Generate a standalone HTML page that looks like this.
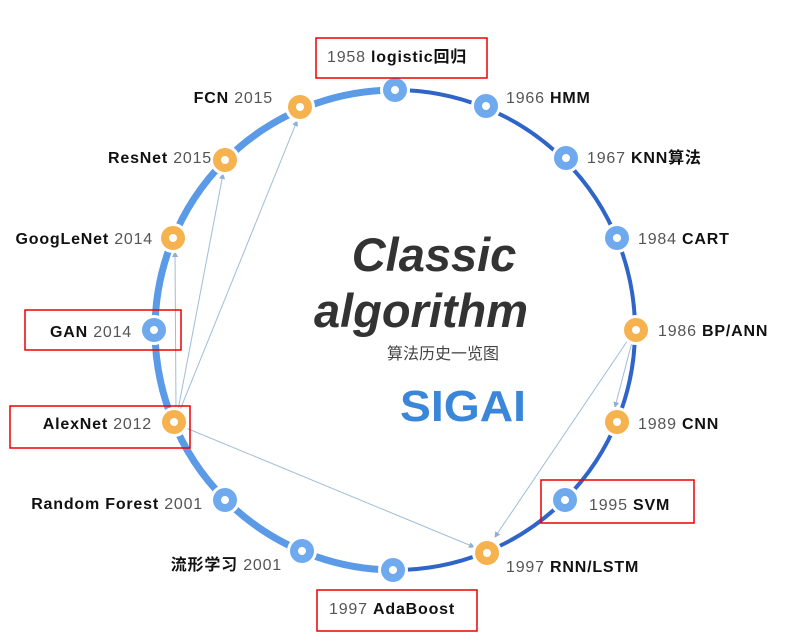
<!DOCTYPE html>
<html><head><meta charset="utf-8"><style>
html,body{margin:0;padding:0;background:#fff;}
svg{display:block;font-family:"Liberation Sans","Noto Sans CJK SC",sans-serif;}
.y{fill:#555;font-size:16px;letter-spacing:0.8px;}
.n{fill:#111;font-size:16px;font-weight:bold;}
</style></head><body>
<svg width="794" height="643" viewBox="0 0 794 643">
<defs><marker id="a" markerWidth="6" markerHeight="6" refX="5" refY="3" orient="auto"><path d="M0,0 L6,3 L0,6 z" fill="#8fb0d0"/></marker></defs>
<path d="M395,90 A240,240 0 0 0 395,570" fill="none" stroke="#5a9ae6" stroke-width="7"/>
<path d="M395,90 A240,240 0 0 1 395,570" fill="none" stroke="#2f64c8" stroke-width="4"/>
<g stroke="#9fbdd8" stroke-width="1" fill="none" marker-end="url(#a)">
<line x1="176" y1="410" x2="175" y2="252"/>
<line x1="178" y1="410" x2="223" y2="174"/>
<line x1="180" y1="410" x2="297" y2="121"/>
<line x1="186" y1="428" x2="474" y2="547"/>
<line x1="628" y1="340" x2="495" y2="537"/>
<line x1="632" y1="342" x2="615" y2="407"/>
</g>
<g fill="#fff"><circle cx="395" cy="90" r="15"/><circle cx="486" cy="106" r="15"/><circle cx="566" cy="158" r="15"/><circle cx="617" cy="238" r="15"/><circle cx="636" cy="330" r="15"/><circle cx="617" cy="422" r="15"/><circle cx="565" cy="500" r="15"/><circle cx="487" cy="553" r="15"/><circle cx="393" cy="570" r="15"/><circle cx="302" cy="551" r="15"/><circle cx="225" cy="500" r="15"/><circle cx="174" cy="422" r="15"/><circle cx="154" cy="330" r="15"/><circle cx="173" cy="238" r="15"/><circle cx="225" cy="160" r="15"/><circle cx="300" cy="107" r="15"/></g>
<g fill="#6fa9ee"><circle cx="395" cy="90" r="12"/><circle cx="486" cy="106" r="12"/><circle cx="566" cy="158" r="12"/><circle cx="617" cy="238" r="12"/><circle cx="565" cy="500" r="12"/><circle cx="393" cy="570" r="12"/><circle cx="302" cy="551" r="12"/><circle cx="225" cy="500" r="12"/><circle cx="154" cy="330" r="12"/></g>
<g fill="#f5b24e"><circle cx="636" cy="330" r="12"/><circle cx="617" cy="422" r="12"/><circle cx="487" cy="553" r="12"/><circle cx="174" cy="422" r="12"/><circle cx="173" cy="238" r="12"/><circle cx="225" cy="160" r="12"/><circle cx="300" cy="107" r="12"/></g>
<g fill="#fff"><circle cx="395" cy="90" r="4"/><circle cx="486" cy="106" r="4"/><circle cx="566" cy="158" r="4"/><circle cx="617" cy="238" r="4"/><circle cx="636" cy="330" r="4"/><circle cx="617" cy="422" r="4"/><circle cx="565" cy="500" r="4"/><circle cx="487" cy="553" r="4"/><circle cx="393" cy="570" r="4"/><circle cx="302" cy="551" r="4"/><circle cx="225" cy="500" r="4"/><circle cx="174" cy="422" r="4"/><circle cx="154" cy="330" r="4"/><circle cx="173" cy="238" r="4"/><circle cx="225" cy="160" r="4"/><circle cx="300" cy="107" r="4"/></g>
<text x="327" y="62" class="y">1958  <tspan class="n">logistic回归</tspan></text>
<text x="506" y="103" class="y">1966  <tspan class="n">HMM</tspan></text>
<text x="587" y="163" class="y">1967  <tspan class="n">KNN算法</tspan></text>
<text x="638" y="244" class="y">1984  <tspan class="n">CART</tspan></text>
<text x="658" y="336" class="y">1986  <tspan class="n">BP/ANN</tspan></text>
<text x="638" y="429" class="y">1989  <tspan class="n">CNN</tspan></text>
<text x="589" y="510" class="y">1995  <tspan class="n">SVM</tspan></text>
<text x="506" y="572" class="y">1997  <tspan class="n">RNN/LSTM</tspan></text>
<text x="329" y="614" class="y">1997  <tspan class="n">AdaBoost</tspan></text>
<text x="282" y="570" class="y" text-anchor="end"><tspan class="n">流形学习</tspan>  2001</text>
<text x="203" y="509" class="y" text-anchor="end"><tspan class="n">Random Forest</tspan>  2001</text>
<text x="152" y="429" class="y" text-anchor="end"><tspan class="n">AlexNet</tspan>  2012</text>
<text x="132" y="337" class="y" text-anchor="end"><tspan class="n">GAN</tspan>  2014</text>
<text x="153" y="244" class="y" text-anchor="end"><tspan class="n">GoogLeNet</tspan>  2014</text>
<text x="212" y="163" class="y" text-anchor="end"><tspan class="n">ResNet</tspan>  2015</text>
<text x="273" y="103" class="y" text-anchor="end"><tspan class="n">FCN</tspan>  2015</text>
<text x="434" y="271" text-anchor="middle" font-size="47" font-weight="bold" font-style="italic" fill="#333">Classic</text>
<text x="421" y="327" text-anchor="middle" font-size="47" font-weight="bold" font-style="italic" fill="#333">algorithm</text>
<text x="387" y="359" font-size="16" fill="#444">算法历史一览图</text>
<text x="400" y="421" font-size="44" font-weight="bold" fill="#3a86d8" textLength="126" lengthAdjust="spacingAndGlyphs">SIGAI</text>
<g fill="none" stroke="#e00" stroke-width="1.5">
<rect x="316" y="38" width="171" height="40"/>
<rect x="25" y="310" width="156" height="40"/>
<rect x="10" y="406" width="180" height="42"/>
<rect x="541" y="480" width="153" height="43"/>
<rect x="317" y="590" width="160" height="41"/>
</g>
</svg>
</body></html>
